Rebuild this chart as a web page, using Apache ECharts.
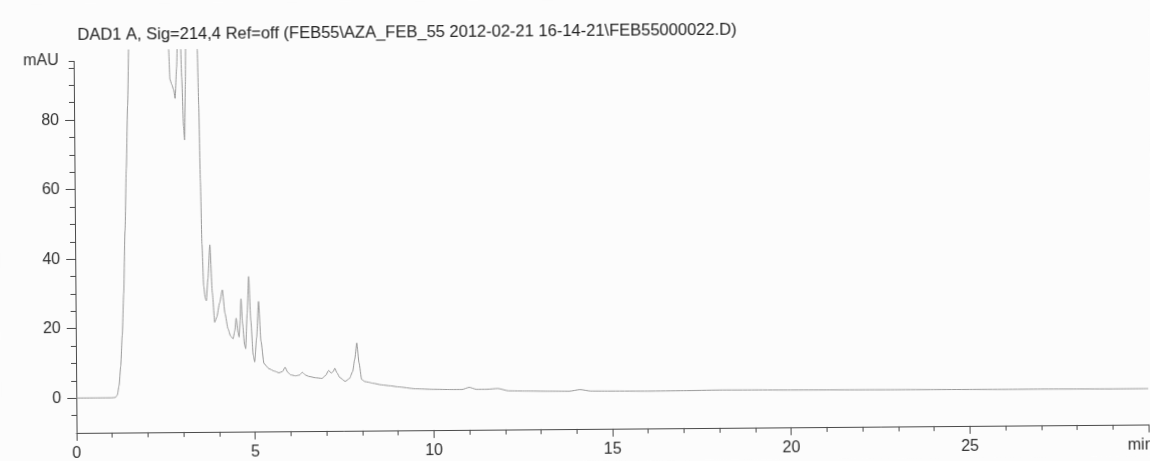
<!DOCTYPE html>
<html>
<head>
<meta charset="utf-8">
<script src="https://cdn.jsdelivr.net/npm/echarts@6/dist/echarts.min.js"></script>
<style>
  html, body { margin: 0; padding: 0; background: #fcfcfc; overflow: hidden; }
  #chart { width: 1150px; height: 461px; transform: rotate(-0.45deg); transform-origin: 50% 50%; }
</style>
</head>
<body>
<div id="chart"></div>
<script>
// DAD1 A trace: retention time (min) and absorbance (mAU)
const times = [
  0, 0.5, 1.0, 1.10, 1.15, 1.20, 1.25, 1.30, 1.35, 1.40, 1.45, 1.50, 1.55, 1.60, 1.8, 2.1, 2.4,
  2.58, 2.66, 2.69, 2.74, 2.79, 2.83, 2.88, 2.93, 2.98, 3.02, 3.06, 3.09, 3.12, 3.16, 3.24, 3.34,
  3.42, 3.46, 3.49, 3.52, 3.55, 3.59, 3.63, 3.66, 3.71, 3.77, 3.83, 3.89, 3.95, 4.03, 4.11, 4.18,
  4.26, 4.33, 4.40, 4.45, 4.49, 4.54, 4.57, 4.60, 4.63, 4.67, 4.72, 4.75, 4.80, 4.85, 4.90, 4.96,
  5.0, 5.06, 5.12, 5.18, 5.26, 5.4, 5.55, 5.68, 5.78, 5.85, 5.92, 6.0, 6.14, 6.25, 6.33, 6.42,
  6.51, 6.7, 6.88, 6.98, 7.07, 7.14, 7.2, 7.24, 7.3, 7.38, 7.53, 7.65, 7.74, 7.80, 7.86, 7.92,
  7.99, 8.08, 8.18, 8.3, 8.55, 8.8, 9.0, 9.5, 10.0, 10.5, 10.8, 11.0, 11.2, 11.5, 11.8, 12.1,
  12.6, 13.2, 13.8, 14.1, 14.4, 15, 16, 17, 18, 19, 20, 21, 22, 23, 24, 25, 26, 27, 28, 29, 30
];
const mAU = [
  0, 0, 0, 0.1, 0.8, 3.5, 9, 18, 30, 48, 66, 84, 104, 150, 320, 380, 260,
  140, 100, 91.5, 90, 88.5, 86, 95, 112, 108, 92, 78, 74, 90, 125, 170, 190,
  140, 100, 84, 62, 44, 32, 28.5, 27.7, 34, 43.8, 30, 21.5, 23, 27, 30.8, 24,
  19.6, 17.5, 16.7, 19, 22.6, 18.5, 17.2, 22, 28.2, 21, 15, 13.8, 24, 34.6, 22, 12,
  10, 17, 27.4, 16, 9.5, 8.0, 7.3, 6.8, 7.2, 8.4, 7.0, 6.2, 5.9, 6.1, 6.9, 6.1,
  5.7, 5.3, 5.1, 5.9, 7.4, 6.6, 7.1, 8.0, 6.7, 5.3, 4.2, 5.0, 7.0, 10.5, 15.2, 9.5,
  4.7, 4.1, 3.9, 3.6, 3.1, 2.8, 2.5, 1.9, 1.7, 1.6, 1.6, 2.2, 1.6, 1.6, 1.8, 1.1,
  1.0, 0.9, 0.85, 1.3, 0.85, 0.8, 0.7, 0.75, 0.85, 0.8, 0.7, 0.65, 0.6, 0.55, 0.5, 0.45, 0.4, 0.4, 0.35, 0.3, 0.3
];

// Axis ticks and labels
const yMajorTicks = [0, 20, 40, 60, 80];
const yMinorTicks = [-5, 5, 10, 15, 25, 30, 35, 45, 50, 55, 65, 70, 75, 85, 90, 95, 97];
const yUnitAt = 97;
const xRange = [0, 30];
const titleText = 'DAD1 A, Sig=214,4 Ref=off (FEB55\\AZA_FEB_55 2012-02-21 16-14-21\\FEB55000022.D)';
const xUnit = 'min';

const FONT = '"Liberation Sans", Arial, sans-serif';
const AXIS = '#4a4a4a';
const TEXT = '#2e2e2e';
const LABEL_SIZE = 16;

const chart = echarts.init(document.getElementById('chart'), null, { renderer: 'canvas' });

const yCommon = {
  type: 'value', min: -10, max: 100, position: 'left',
  splitLine: { show: false }, axisLine: { show: false }
};

chart.setOption({
  backgroundColor: '#fcfcfc',
  animation: false,
  grid: { left: 75, top: 46.6, width: 1080, height: 382.3, containLabel: false },
  xAxis: {
    type: 'value', min: xRange[0], max: xRange[1], interval: 5,
    axisLine: { show: true, onZero: false, lineStyle: { color: AXIS, width: 1 } },
    axisTick: { show: true, inside: false, length: 8, lineStyle: { color: AXIS } },
    minorTick: { show: true, splitNumber: 5, length: 5, lineStyle: { color: AXIS } },
    axisLabel: {
      margin: 13, color: TEXT, fontSize: LABEL_SIZE, fontFamily: FONT,
      formatter: v => (v === xRange[1] ? '' : String(v))
    },
    splitLine: { show: false }, minorSplitLine: { show: false }
  },
  yAxis: [
    Object.assign({}, yCommon, {
      axisTick: { show: true, length: 9, customValues: yMajorTicks, lineStyle: { color: AXIS } },
      axisLabel: { customValues: yMajorTicks, margin: 15, color: TEXT, fontSize: LABEL_SIZE, fontFamily: FONT }
    }),
    Object.assign({}, yCommon, {
      axisTick: { show: true, length: 5, customValues: yMinorTicks, lineStyle: { color: AXIS } },
      axisLabel: {
        customValues: [yUnitAt], margin: 15, color: TEXT, fontSize: LABEL_SIZE, fontFamily: FONT,
        formatter: () => 'mAU'
      }
    })
  ],
  series: [{
    type: 'line',
    data: times.map((t, i) => [t, mAU[i]]),
    showSymbol: false,
    smooth: 0.2,
    smoothMonotone: 'x',
    clip: true,
    lineStyle: { color: '#999999', width: 1 }
  }]
});

// Y axis line runs from the time axis up to the mAU mark
const p0 = chart.convertToPixel({ xAxisIndex: 0, yAxisIndex: 0 }, [0, -10]);
const p1 = chart.convertToPixel({ xAxisIndex: 0, yAxisIndex: 0 }, [0, yUnitAt]);
const unitPos = chart.convertToPixel({ xAxisIndex: 0, yAxisIndex: 0 }, [xRange[1], -10]);

chart.setOption({
  graphic: [
    {
      id: 'yline', type: 'line', silent: true,
      shape: { x1: Math.round(p0[0]) + 0.5, y1: p0[1], x2: Math.round(p1[0]) + 0.5, y2: p1[1] },
      style: { stroke: AXIS, lineWidth: 1 }
    },
    {
      id: 'title', type: 'text', left: 79, top: 23, silent: true,
      style: { text: titleText, font: '16.5px ' + FONT, fill: '#222' }
    },
    {
      id: 'xunit', type: 'text', silent: true,
      x: unitPos[0] - 21, y: unitPos[1] + 13,
      style: { text: xUnit, font: LABEL_SIZE + 'px ' + FONT, fill: TEXT, textVerticalAlign: 'top' }
    }
  ]
});
</script>
</body>
</html>
